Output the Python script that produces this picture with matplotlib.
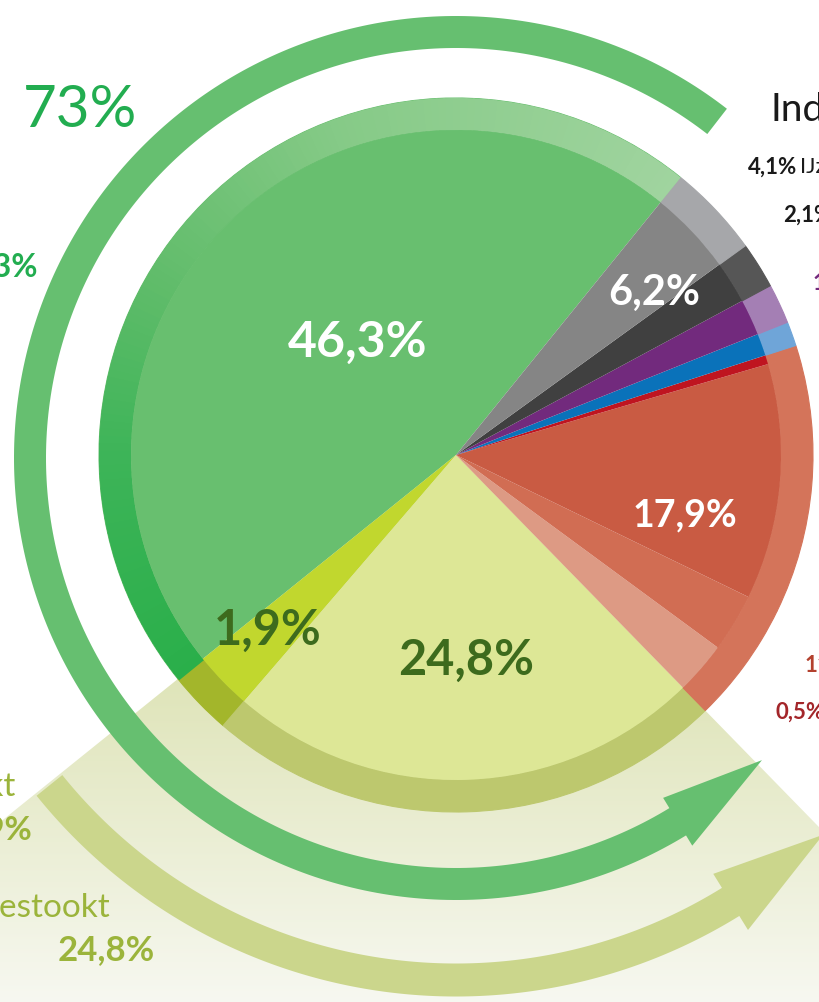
import numpy as np
import matplotlib.pyplot as plt
from matplotlib.patches import Wedge
from matplotlib.colors import to_rgb

plt.rcParams['font.family'] = ['Lato', 'DejaVu Sans']

# slices as drawn, counter-clockwise from the green/grey border (% of the circle)
slices = ['hout energie', 'meegestookt', 'bijgestookt', 'rood licht', 'rood midden',
          'rood', 'donkerrood', 'blauw', 'paars', 'donkergrijs', 'grijs']
shares = [46.6, 2.9, 23.6, 2.6, 2.9, 11.7, 0.45, 1.1, 1.8, 2.1, 4.2]
core_colors = ['#68bf6f', '#c1d72e', '#dde796', '#dd9a84', '#d16d53', '#c95b43',
               '#bf1520', '#0a72ba', '#722a7d', '#404040', '#858585']
ring_colors = ['#68bf6f', '#a3b62b', '#bdc86e', '#d4745a', '#d4745a', '#d4745a',
               '#d4745a', '#6fa5d8', '#a47fb4', '#565656', '#a6a7aa']
start_angle = 51.0

total_label = '73%'
left_labels = ['46,3%', 'meegestookt', '1,9%', 'bijgestookt', '24,8%']
right_head = 'Industrie'
right_labels = ['4,1%', '2,1%', '1,8%', '11,7%', '0,5%']
right_words = ['IJzer- en staalindustrie', 'Papier', '', '', '']

W, H = 819, 1002
fig = plt.figure(figsize=(W / 100, H / 100), dpi=100)
ax = fig.add_axes([0, 0, 1, 1])

cx, cy = 456, H - 455
R_out, R_in = 357, 325

ring, _ = ax.pie(shares, colors=ring_colors, startangle=start_angle, counterclock=True,
                 radius=R_out, center=(cx, cy),
                 wedgeprops=dict(width=R_out - R_in, linewidth=0))
core, _ = ax.pie(shares, colors=core_colors, startangle=start_angle, counterclock=True,
                 radius=R_in, center=(cx, cy), wedgeprops=dict(linewidth=0))
for p in ring:
    p.set_edgecolor(p.get_facecolor())
    p.set_linewidth(0.8)
    p.set_zorder(2)
for p in core:
    p.set_zorder(2.2)

# gradient on the green rim (light at the top, dark on the left)
g = ring[0]
stops_a = [0.0, 0.35, 0.59, 0.77, 1.0]
stops_c = ['#a0d49f', '#86ca87', '#60bc6a', '#3db458', '#2aaf4a']
n = 140
edges = np.linspace(g.theta1, g.theta2, n + 1)
for i in range(n):
    f = (i + 0.5) / n
    col = [np.interp(f, stops_a, [to_rgb(c)[k] for c in stops_c]) for k in range(3)]
    ax.add_patch(Wedge((cx, cy), R_out, edges[i], edges[i + 1] + 0.3, width=R_out - R_in,
                       facecolor=col, edgecolor='none', zorder=2.1))

# light olive fan below the pie (meegestookt + bijgestookt)
fan = Wedge((cx, cy), 1200, core[1].theta1, core[2].theta2, facecolor='none', edgecolor='none')
ax.add_patch(fan)
top_c, bot_c = np.array(to_rgb('#dce2b2')), np.array(to_rgb('#f7f8f1'))
frac = np.clip((np.arange(H) - 640) / (H - 640), 0, 1)
grad = top_c[None, :] * (1 - frac[:, None]) + bot_c[None, :] * frac[:, None]
im = ax.imshow(grad[:, None, :], extent=[0, W, 0, H], origin='upper', aspect='auto', zorder=0)
im.set_clip_path(fan)


def arc_arrow(center, r, w, a0, a1, head_len, head_w, color):
    ab = a1 - head_len
    t = np.radians(np.linspace(a0, ab, 300))
    x0, y0 = center
    outer = np.c_[x0 + (r + w / 2) * np.cos(t), y0 + (r + w / 2) * np.sin(t)]
    inner = np.c_[x0 + (r - w / 2) * np.cos(t), y0 + (r - w / 2) * np.sin(t)][::-1]
    tb, tt = np.radians(ab), np.radians(a1)
    head = np.array([
        [x0 + (r + head_w / 2) * np.cos(tb), y0 + (r + head_w / 2) * np.sin(tb)],
        [x0 + (r + 4) * np.cos(tt), y0 + (r + 4) * np.sin(tt)],
        [x0 + (r - head_w / 2) * np.cos(tb), y0 + (r - head_w / 2) * np.sin(tb)],
    ])
    pts = np.vstack([outer, head, inner])
    ax.fill(pts[:, 0], pts[:, 1], color=color, lw=0, zorder=3)


acx, acy = 456, H - 458
# 73% arrow round the pie
a0 = core[0].theta1 + 1.2
arc_arrow((acx, acy), 426, 32, a0, a0 + sum(shares[:3]) * 3.6, 14, 56, '#66bf70')
# bijgestookt arrow
a0 = core[1].theta1
arc_arrow((acx, acy), 522, 33, a0, a0 + (shares[1] + shares[2]) * 3.6, 12.5, 66, '#cbd68c')

# labels in the pie
dg = '#3d6b1d'
ax.text(358, H - 342, '46,3%', color='white', fontsize=36, fontweight='bold', ha='center', va='center', zorder=5)
ax.text(654, H - 293, '6,2%', color='white', fontsize=30, fontweight='bold', ha='center', va='center', zorder=5)
ax.text(685, H - 515, '17,9%', color='white', fontsize=27, fontweight='bold', ha='center', va='center', zorder=5)
ax.text(268, H - 630, '1,9%', color=dg, fontsize=35, fontweight='bold', ha='center', va='center', zorder=5)
ax.text(466, H - 660, '24,8%', color=dg, fontsize=35, fontweight='bold', ha='center', va='center', zorder=5)

# left side texts (cut off by the frame, as in the source)
green = '#22ad50'
olive = '#9bb43b'
ax.text(137, H - 110, total_label, color=green, fontsize=42, ha='right', va='center', zorder=5)
ax.text(38, H - 267, left_labels[0], color=green, fontsize=23, fontweight='bold', ha='right', va='center', zorder=5)
ax.text(16, H - 787, left_labels[1], color=olive, fontsize=24, ha='right', va='center', zorder=5)
ax.text(33, H - 830, left_labels[2], color=olive, fontsize=24, fontweight='bold', ha='right', va='center', zorder=5)
ax.text(110, H - 908, left_labels[3], color=olive, fontsize=24, ha='right', va='center', zorder=5)
ax.text(155, H - 950, left_labels[4], color=olive, fontsize=25, fontweight='bold', ha='right', va='center', zorder=5)

# right side legend (cut off by the frame)
ax.text(770, H - 110, right_head, color='#1a1a1a', fontsize=28, ha='left', va='center', zorder=5)
rx = [748, 783, 813, 805, 775]
ry = [167, 215, 283, 665, 712]
rc = ['#1a1a1a', '#1a1a1a', '#722a7d', '#b3412e', '#a3262a']
for lab, word, x, y, c in zip(right_labels, right_words, rx, ry, rc):
    t = ax.text(x, H - y, lab, color=c, fontsize=16, fontweight='bold', ha='left', va='center', zorder=5)
    if word:
        ax.annotate(word, xycoords=t, xy=(1, 0.5), xytext=(2, 0), textcoords='offset points',
                    color=c, fontsize=16, ha='left', va='center', zorder=5)

ax.set_xlim(0, W)
ax.set_ylim(0, H)
ax.set_aspect('equal')
ax.axis('off')
fig.savefig('out.png', dpi=100, facecolor='white')
